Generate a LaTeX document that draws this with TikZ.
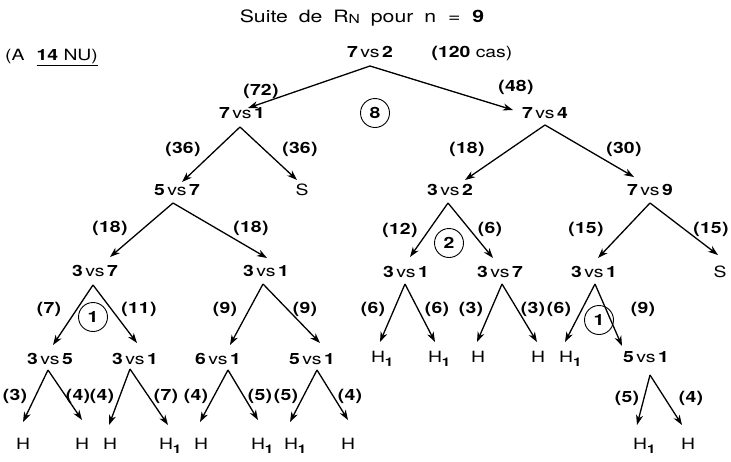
\documentclass[tikz,border=0pt]{standalone}
\usepackage{fontspec}
\setmainfont{TeX Gyre Heros}[FakeStretch=1.25]
\usetikzlibrary{calc,arrows.meta}
\newcommand\vsn[2]{\textbf{#1}\,vs\,\textbf{#2}}
\newcommand\Hone{H\rlap{\raisebox{-3.5pt}{\fontsize{12}{12}\selectfont\bfseries 1}}}
\newcommand\lab[1]{(\kern0.3pt#1\kern0.3pt)}
\newcommand\arr[6]{\draw[arr] ($(#1)+(#2)$) -- ($(#4)+(#5)$);}
\begin{document}
\begin{tikzpicture}[x=1pt,y=-1pt,
  tn/.style={inner sep=0pt,text height=11pt,text depth=0pt,font=\fontsize{15.5}{15.5}\selectfont},
  lb/.style={inner sep=0pt,text height=11pt,text depth=0pt,font=\fontsize{15.5}{15.5}\selectfont\bfseries},
  cnum/.style={circle,draw,line width=0.9pt,minimum size=29pt,inner sep=0pt,font=\fontsize{15.5}{15.5}\selectfont\bfseries},
  arr/.style={line width=1.3pt,-{Stealth[length=10pt,width=7pt,inset=3pt]}}]
\useasboundingbox (0,0) rectangle (731,461);
% title and remarks
\node[tn,font=\fontsize{17}{17}\selectfont,text height=12pt] (title) at (362,16) {Suite\hspace{5pt} de\hspace{5pt} R\raisebox{-1.5pt}{\fontsize{12.5}{12.5}\selectfont N}\hspace{5pt} pour\hspace{5pt} n\hspace{6pt} =\hspace{6pt} \textbf{9}};
\node[tn,anchor=west] (a14) at (5,55) {(A\hspace{12pt}\underline{\textbf{14} NU)}};
\node[tn] (cas) at (472,52) {\textbf{(120} cas)};
% level 0-1
\node[tn] (root) at (370,52) {\vsn{7}{2}};
\node[tn] (n71) at (242,113) {\vsn{7}{1}};
\node[tn] (n74) at (545,113) {\vsn{7}{4}};
\node[cnum] (c8) at (375,113) {8};
\node[lb] (l72) at (261,90) {\lab{72}};
\node[lb] (l48) at (516,86) {\lab{48}};
% level 2
\node[tn] (n57) at (177,190) {\vsn{5}{7}};
\node[tn] (S1) at (302,190) {S};
\node[lb] (l36a) at (183,148) {\lab{36}};
\node[lb] (l36b) at (300,148) {\lab{36}};
\node[tn] (n32) at (450,190) {\vsn{3}{2}};
\node[tn] (n79) at (650,190) {\vsn{7}{9}};
\node[lb] (l18c) at (467,148) {\lab{18}};
\node[lb] (l30) at (624,148) {\lab{30}};
% level 3
\node[tn] (n37) at (95,271) {\vsn{3}{7}};
\node[tn] (n31a) at (266,271) {\vsn{3}{1}};
\node[lb] (l18a) at (110,227) {\lab{18}};
\node[lb] (l18b) at (251,227) {\lab{18}};
\node[tn] (n31b) at (406,272) {\vsn{3}{1}};
\node[tn] (n37b) at (500,272) {\vsn{3}{7}};
\node[lb] (l12) at (400,229) {\lab{12}};
\node[lb] (l6) at (490,228) {\lab{6}};
\node[cnum] (c2) at (449,243) {2};
\node[tn] (n31c) at (594,272) {\vsn{3}{1}};
\node[tn] (S2) at (720,272) {S};
\node[lb] (l15a) at (586,228) {\lab{15}};
\node[lb] (l15b) at (711,228) {\lab{15}};
% level 4
\node[tn] (n35) at (50,359) {\vsn{3}{5}};
\node[tn] (n31d) at (135,359) {\vsn{3}{1}};
\node[cnum] (c1a) at (93,317) {1};
\node[lb] (l7) at (49,308) {\lab{7}};
\node[lb] (l11) at (139,308) {\lab{11}};
\node[tn] (n61) at (218,359) {\vsn{6}{1}};
\node[tn] (n51a) at (312,359) {\vsn{5}{1}};
\node[lb] (l9a) at (225,308) {\lab{9}};
\node[lb] (l9b) at (305,308) {\lab{9}};
\node[tn] (h1) at (378,357) {\Hone};
\node[tn] (h2) at (435,357) {\Hone};
\node[tn] (h3) at (478,357) {H};
\node[tn] (h4) at (538,357) {H};
\node[tn] (h5) at (566,357) {\Hone};
\node[tn] (n51b) at (646,357) {\vsn{5}{1}};
\node[lb] (l6a) at (373,308) {\lab{6}};
\node[lb] (l6b) at (437,308) {\lab{6}};
\node[lb] (l3a) at (471,308) {\lab{3}};
\node[lb] (l3b) at (533,308) {\lab{3}};
\node[lb] (l6c) at (559,308) {\lab{6}};
\node[lb] (l9c) at (643,308) {\lab{9}};
\node[cnum] (c1b) at (599,320) {1};
% level 5
\node[tn] (h6) at (23,444) {H};
\node[tn] (h7) at (82,444) {H};
\node[tn] (h8) at (110,444) {H};
\node[tn] (h9) at (166,444) {\Hone};
\node[tn] (h10) at (201,444) {H};
\node[tn] (h11) at (258,444) {\Hone};
\node[tn] (h12) at (291,444) {\Hone};
\node[tn] (h13) at (348,444) {H};
\node[tn] (h14) at (640,444) {\Hone};
\node[tn] (h15) at (688,444) {H};
\node[lb] (l3) at (15,395) {\lab{3}};
\node[lb] (l4a) at (78,395) {\lab{4}};
\node[lb] (l4b) at (102,395) {\lab{4}};
\node[lb] (l7b) at (166,395) {\lab{7}};
\node[lb] (l4c) at (196,395) {\lab{4}};
\node[lb] (l5a) at (260,395) {\lab{5}};
\node[lb] (l5b) at (286,395) {\lab{5}};
\node[lb] (l4d) at (350,395) {\lab{4}};
\node[lb] (l5c) at (627,397) {\lab{5}};
\node[lb] (l4e) at (691,397) {\lab{4}};
% arrows
\arr{root}{0,14}{}{n71}{6,-5}{}
\arr{root}{0,14}{}{n74}{-32,-3}{}
\arr{n71}{-2,14}{}{n57}{5,-8}{}
\arr{n71}{-2,14}{}{S1}{-5,-10}{}
\arr{n57}{-4,13}{}{n37}{15,-14}{}
\arr{n57}{-4,13}{}{n31a}{1,-13}{}
\arr{n74}{0,12}{}{n32}{15,-10}{}
\arr{n74}{0,12}{}{n79}{-16,-13}{}
\arr{n32}{-2,13}{}{n31b}{4,-15}{}
\arr{n32}{-2,13}{}{n37b}{-7,-14}{}
\arr{n79}{0,13}{}{n31c}{4,-14}{}
\arr{n79}{0,13}{}{S2}{-2,-17}{}
\arr{n37}{-2,14}{}{n35}{3,-14}{}
\arr{n37}{-2,14}{}{n31d}{2,-16}{}
\arr{n31a}{-3,13}{}{n61}{12,-14}{}
\arr{n31a}{-3,13}{}{n51a}{8,-16}{}
\arr{n31b}{-1,12}{}{h1}{2,-15}{}
\arr{n31b}{-1,12}{}{h2}{0,-15}{}
\arr{n37b}{2,12}{}{h3}{-1,-15}{}
\arr{n37b}{2,12}{}{h4}{-1,-15}{}
\arr{n31c}{1,12}{}{h5}{-1,-15}{}
\arr{n31c}{1,12}{}{n51b}{-24,-11}{}
\arr{n35}{-2,11}{}{h6}{0,-22}{}
\arr{n35}{-2,11}{}{h7}{0,-24}{}
\arr{n31d}{-5,10}{}{h8}{-1,-19}{}
\arr{n31d}{-5,10}{}{h9}{2,-19}{}
\arr{n61}{10,11}{}{h10}{-1,-22}{}
\arr{n61}{10,11}{}{h11}{0,-24}{}
\arr{n51a}{5,11}{}{h12}{-1,-22}{}
\arr{n51a}{5,11}{}{h13}{0,-24}{}
\arr{n51b}{4,18}{}{h14}{-3,-19}{}
\arr{n51b}{4,18}{}{h15}{-6,-19}{}
\end{tikzpicture}
\end{document}
